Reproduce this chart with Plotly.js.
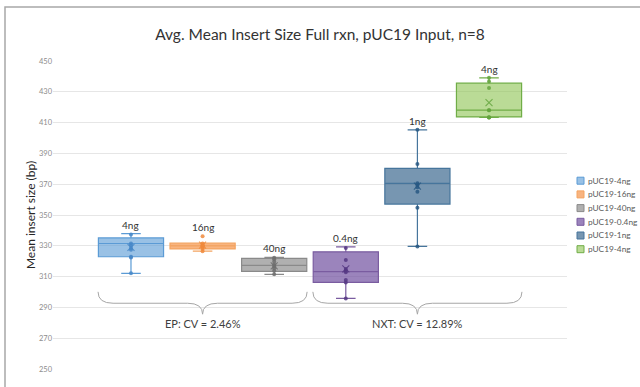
<!DOCTYPE html>
<html>
<head>
<meta charset="utf-8">
<script src="https://cdn.plot.ly/plotly-3.0.1.min.js"></script>
<style>html,body{margin:0;padding:0;background:#fff;}#chart{width:640px;height:387px;}</style>
</head>
<body>
<div id="chart"></div>
<script>
// ---- Data ----
const seriesNames = ['pUC19-4ng','pUC19-16ng','pUC19-40ng','pUC19-0.4ng','pUC19-1ng','pUC19-4ng'];
const boxLabels   = ['4ng','16ng','40ng','0.4ng','1ng','4ng'];
const positions   = [1, 2, 3, 4, 5, 6];
const lowerWhisker = [312.1, 326.5, 311.5, 295.8, 329.6, 413.3];
const q1Values     = [322.9, 328.0, 313.4, 306.3, 357.1, 413.7];
const medianValues = [331.5, 330.0, 317.3, 313.2, 370.6, 418.1];
const q3Values     = [335.1, 331.7, 321.8, 326.1, 380.3, 435.6];
const upperWhisker = [337.9, 331.7, 322.5, 329.3, 405.3, 439.1];
const meanValues   = [329.0, 330.4, 317.0, 315.0, 368.8, 423.0];
const pointsEP4    = [337.3, 331.5, 330.3, 328.5, 327.5, 322.9, 322.4, 312.1];
const pointsEP16   = [336.2, 331.5, 330.5, 330.0, 329.8, 329.2, 328.0, 326.5];
const pointsEP40   = [322.3, 321.2, 319.6, 317.7, 316.8, 315.5, 313.8, 311.5];
const pointsNXT04  = [328.5, 320.7, 314.9, 313.8, 312.8, 307.8, 306.1, 295.8];
const pointsNXT1   = [405.3, 383.1, 370.6, 369.5, 368.0, 365.1, 354.7, 329.6];
const pointsNXT4   = [439.1, 436.7, 432.4, 418.1, 418.0, 413.5, 413.3, 413.3];
const groupNames   = ['EP: CV = 2.46%', 'NXT: CV = 12.89%'];
const groupCenters = [2, 5];
const yTickVals    = [250, 270, 290, 310, 330, 350, 370, 390, 410, 430, 450];

const allPoints = [pointsEP4, pointsEP16, pointsEP40, pointsNXT04, pointsNXT1, pointsNXT4];

// ---- Styles ----
const fillColors  = ['rgba(91,155,213,0.62)','rgba(244,140,60,0.65)','rgba(150,150,150,0.75)','rgba(112,80,160,0.7)','rgba(55,100,140,0.68)','rgba(140,195,80,0.6)'];
const lineColors  = ['#5B9BD5','#F4A460','#8A8A8A','#7A5CA0','#46759C','#70AD47'];
const pointColors = ['rgba(70,135,200,0.85)','rgba(240,138,60,0.85)','rgba(110,110,110,0.85)','rgba(85,55,130,0.85)','rgba(40,88,130,0.85)','rgba(100,165,62,0.85)'];

const traces = [];
for (let i = 0; i < seriesNames.length; i++) {
  traces.push({
    type: 'box', name: seriesNames[i], x: [positions[i]],
    q1: [q1Values[i]], median: [medianValues[i]], q3: [q3Values[i]],
    lowerfence: [lowerWhisker[i]], upperfence: [upperWhisker[i]],
    width: 0.91, whiskerwidth: 0.3,
    fillcolor: fillColors[i], line: {color: lineColors[i], width: 1.2},
    showlegend: false, hoverinfo: 'skip'
  });
  traces.push({
    type: 'scatter', mode: 'markers', x: allPoints[i].map(() => positions[i]), y: allPoints[i],
    marker: {color: pointColors[i], size: 4}, showlegend: false, hoverinfo: 'skip'
  });
  traces.push({
    type: 'scatter', mode: 'markers', x: [positions[i]], y: [meanValues[i]],
    marker: {color: pointColors[i], size: 7, symbol: 'x-thin-open', line: {color: pointColors[i], width: 1.1}},
    showlegend: false, hoverinfo: 'skip'
  });
}

// ---- Annotations ----
const annotations = [];
for (let i = 0; i < seriesNames.length; i++) {
  const top = Math.max(upperWhisker[i], ...allPoints[i]);
  annotations.push({x: positions[i], y: top, xref: 'x', yref: 'y', text: boxLabels[i], showarrow: false,
    yanchor: 'bottom', yshift: 1, font: {size: 10, color: '#333', family: 'Lato, sans-serif'}});
}
for (let g = 0; g < groupNames.length; g++) {
  annotations.push({x: groupCenters[g], y: 279.5, xref: 'x', yref: 'y', text: groupNames[g], showarrow: false,
    font: {size: 11, color: '#404040', family: 'Lato, sans-serif'}});
}

// Manual legend (compact spacing as in reference)
const plotL = 53, plotW = 514, plotBottom = 369, plotH = 308;
const px2x = p => (p - plotL) / plotW;
const px2y = p => (plotBottom - p) / plotH;
const shapes = [];
for (let i = 0; i < seriesNames.length; i++) {
  const cy = 180.7 + i * 13.7;
  shapes.push({type: 'rect', xref: 'paper', yref: 'paper', x0: px2x(577), x1: px2x(584), y0: px2y(cy + 3.5), y1: px2y(cy - 3.5),
    fillcolor: fillColors[i], line: {color: lineColors[i], width: 1}});
  annotations.push({x: px2x(586), y: px2y(cy), xref: 'paper', yref: 'paper', xanchor: 'left', yanchor: 'middle',
    text: seriesNames[i], showarrow: false, font: {size: 8.3, color: '#595959', family: 'Lato, sans-serif'}});
}

// Braces under groups
const halfW = 1.46, r = 0.21, yTop = 300.1, yMid = 292.7, yTip = 285.6;
for (let g = 0; g < groupCenters.length; g++) {
  const c = groupCenters[g], a = c - halfW, b = c + halfW;
  const path = `M ${a},${yTop} Q ${a},${yMid} ${a + r},${yMid} L ${c - r},${yMid} Q ${c},${yMid} ${c},${yTip} ` +
               `Q ${c},${yMid} ${c + r},${yMid} L ${b - r},${yMid} Q ${b},${yMid} ${b},${yTop}`;
  shapes.push({type: 'path', xref: 'x', yref: 'y', path: path, line: {color: '#A6A6A6', width: 1}});
}

// Outer frame
shapes.push({type: 'rect', xref: 'paper', yref: 'paper', x0: px2x(5), x1: px2x(700), y0: px2y(420), y1: px2y(7),
  line: {color: '#A8A8A8', width: 1.5}, fillcolor: 'rgba(0,0,0,0)', layer: 'below'});

const layout = {
  width: 640, height: 387,
  margin: {l: 53, r: 73, t: 61, b: 18},
  paper_bgcolor: '#fff', plot_bgcolor: '#fff',
  font: {family: 'Lato, sans-serif', color: '#333'},
  title: {text: 'Avg. Mean Insert Size Full rxn, pUC19 Input, n=8', x: 0.5, xref: 'container', xanchor: 'center',
    y: 1 - 35 / 387, yref: 'container', yanchor: 'middle', font: {size: 15.5, color: '#333', family: 'Lato, sans-serif'}},
  xaxis: {range: [-0.089, 7.089], visible: false, showgrid: false, zeroline: false},
  yaxis: {range: [250, 450], tickvals: yTickVals, ticktext: yTickVals.map(String), showgrid: true, gridcolor: '#E6E6E6', gridwidth: 1,
    zeroline: false, showline: false, ticks: '', tickfont: {size: 7.5, color: '#8C8C8C'},
    title: {text: 'Mean insert size (bp)', standoff: 0, font: {size: 12, color: '#262626', family: 'Lato, sans-serif'}}},
  showlegend: false,
  annotations: annotations,
  shapes: shapes
};

Plotly.newPlot('chart', traces, layout, {staticPlot: true, displayModeBar: false});
</script>
</body>
</html>
